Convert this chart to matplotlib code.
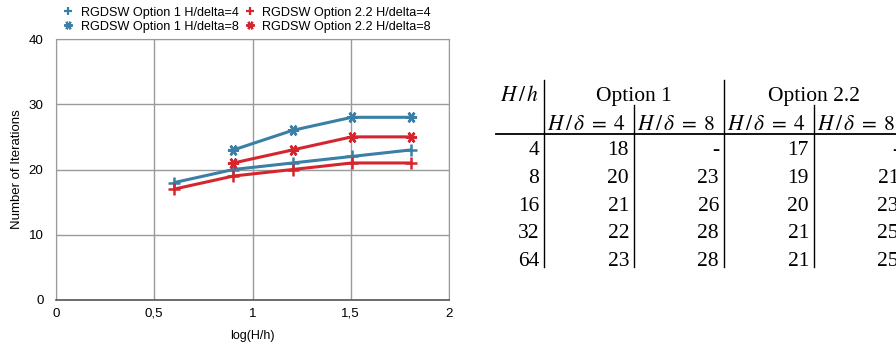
import numpy as np
import matplotlib
matplotlib.use("Agg")
import matplotlib.pyplot as plt
from matplotlib.lines import Line2D
from matplotlib.ticker import FuncFormatter

h_ratio = [4, 8, 16, 32, 64]
opt1_d4 = [18, 20, 21, 22, 23]
opt1_d8 = [None, 23, 26, 28, 28]
opt22_d4 = [17, 19, 20, 21, 21]
opt22_d8 = [None, 21, 23, 25, 25]

series_labels = ["RGDSW Option 1 H/delta=4", "RGDSW Option 1 H/delta=8",
                 "RGDSW Option 2.2 H/delta=4", "RGDSW Option 2.2 H/delta=8"]
x_ticks = [0, 0.5, 1, 1.5, 2]
y_ticks = [0, 10, 20, 30, 40]
sub_headers = [4, 8, 4, 8]

BLUE = "#3a7fa6"
RED = "#d5262f"
W, H = 896, 346

plt.rcParams["font.family"] = ["Liberation Sans", "DejaVu Sans"]
plt.rcParams["mathtext.fontset"] = "stix"


def comma(v, pos):
    s = "{:g}".format(v)
    return s.replace(".", ",")


def px(x, y):
    return x / W, 1 - y / H


def masked(values):
    return np.array([np.nan if v is None else v for v in values], dtype=float)


def draw_chart(fig):
    ax = fig.add_axes([56 / W, 46 / H, (449 - 56) / W, (300 - 39) / H])
    xs = np.log10(h_ratio)
    star = (6, 2, 90)
    styles = [(opt1_d4, BLUE, "+"), (opt1_d8, BLUE, star),
              (opt22_d4, RED, "+"), (opt22_d8, RED, star)]
    handles = []
    for (vals, col, mk), lab in zip(styles, series_labels):
        ax.plot(xs, masked(vals), color=col, lw=2.2, marker=mk, ms=8,
                mew=1.8, solid_capstyle="round")
        handles.append(Line2D([], [], color=col, ls="none", marker=mk,
                              ms=6, mew=1.6, label=lab))

    ax.set_xlim(0, 2)
    ax.set_ylim(0, 40)
    ax.set_xticks(x_ticks)
    ax.set_yticks(y_ticks)
    ax.xaxis.set_major_formatter(FuncFormatter(comma))
    ax.tick_params(length=0, labelsize=9.6)
    ax.tick_params(axis="x", pad=5.5)
    ax.tick_params(axis="y", pad=9)
    ax.grid(True, color="#9a9a9a", lw=1)
    ax.set_axisbelow(True)
    for side in ["top", "right", "left"]:
        ax.spines[side].set_color("#9a9a9a")
    ax.spines["bottom"].set_color("#555555")
    ax.spines["bottom"].set_linewidth(1.2)
    ax.set_xlabel("log(H/h)", fontsize=9, labelpad=7.5)
    ax.set_ylabel("Number of Iterations", fontsize=9.5, labelpad=4)

    fig.legend(handles=handles, ncol=2, frameon=False, fontsize=9.1,
               loc="upper left", bbox_to_anchor=px(54, -2),
               handlelength=0.8, handletextpad=0.6, columnspacing=0.5,
               labelspacing=0.15, borderpad=0.2)


def draw_table(fig):
    fs = 15.5
    serif = ["Liberation Serif", "DejaVu Serif"]
    kw = dict(fontsize=fs, family=serif, va="baseline")
    fig.text(*px(520, 101), r"$H\,/\,h$", ha="center", **kw)
    fig.text(*px(634, 101), "Option 1", ha="center", **kw)
    fig.text(*px(814, 101), "Option 2.2", ha="center", **kw)
    col_left = [544, 634, 724, 814]
    for c, d in zip(col_left, sub_headers):
        fig.text(*px(c + 3, 130), r"$H\,/\,\delta\;=\;%d$" % d, ha="left", **kw)

    row_base = [155.5, 183, 210.5, 238, 265.5]
    columns = [opt1_d4, opt1_d8, opt22_d4, opt22_d8]
    right_edges = [629, 719, 809, 899]
    for i, y in enumerate(row_base):
        fig.text(*px(539, y), str(h_ratio[i]), ha="right", **kw)
        for col, xr in zip(columns, right_edges):
            v = col[i]
            fig.text(*px(xr, y), "-" if v is None else str(v), ha="right", **kw)

    lines = [((496, 900), (134.5, 134.5), 1.3),
             ((543.5, 543.5), (80, 267), 1.0),
             ((723.5, 723.5), (80, 267), 1.0),
             ((633.5, 633.5), (105, 267), 1.0),
             ((813.5, 813.5), (105, 267), 1.0)]
    for (x0, x1), (y0, y1), lw in lines:
        a = px(x0, y0)
        b = px(x1, y1)
        fig.add_artist(Line2D([a[0], b[0]], [a[1], b[1]], color="black", lw=lw))


def main():
    fig = plt.figure(figsize=(W / 100, H / 100), dpi=100)
    draw_chart(fig)
    draw_table(fig)
    fig.savefig("out.png", dpi=100)
    plt.close(fig)


if __name__ == "__main__":
    main()
